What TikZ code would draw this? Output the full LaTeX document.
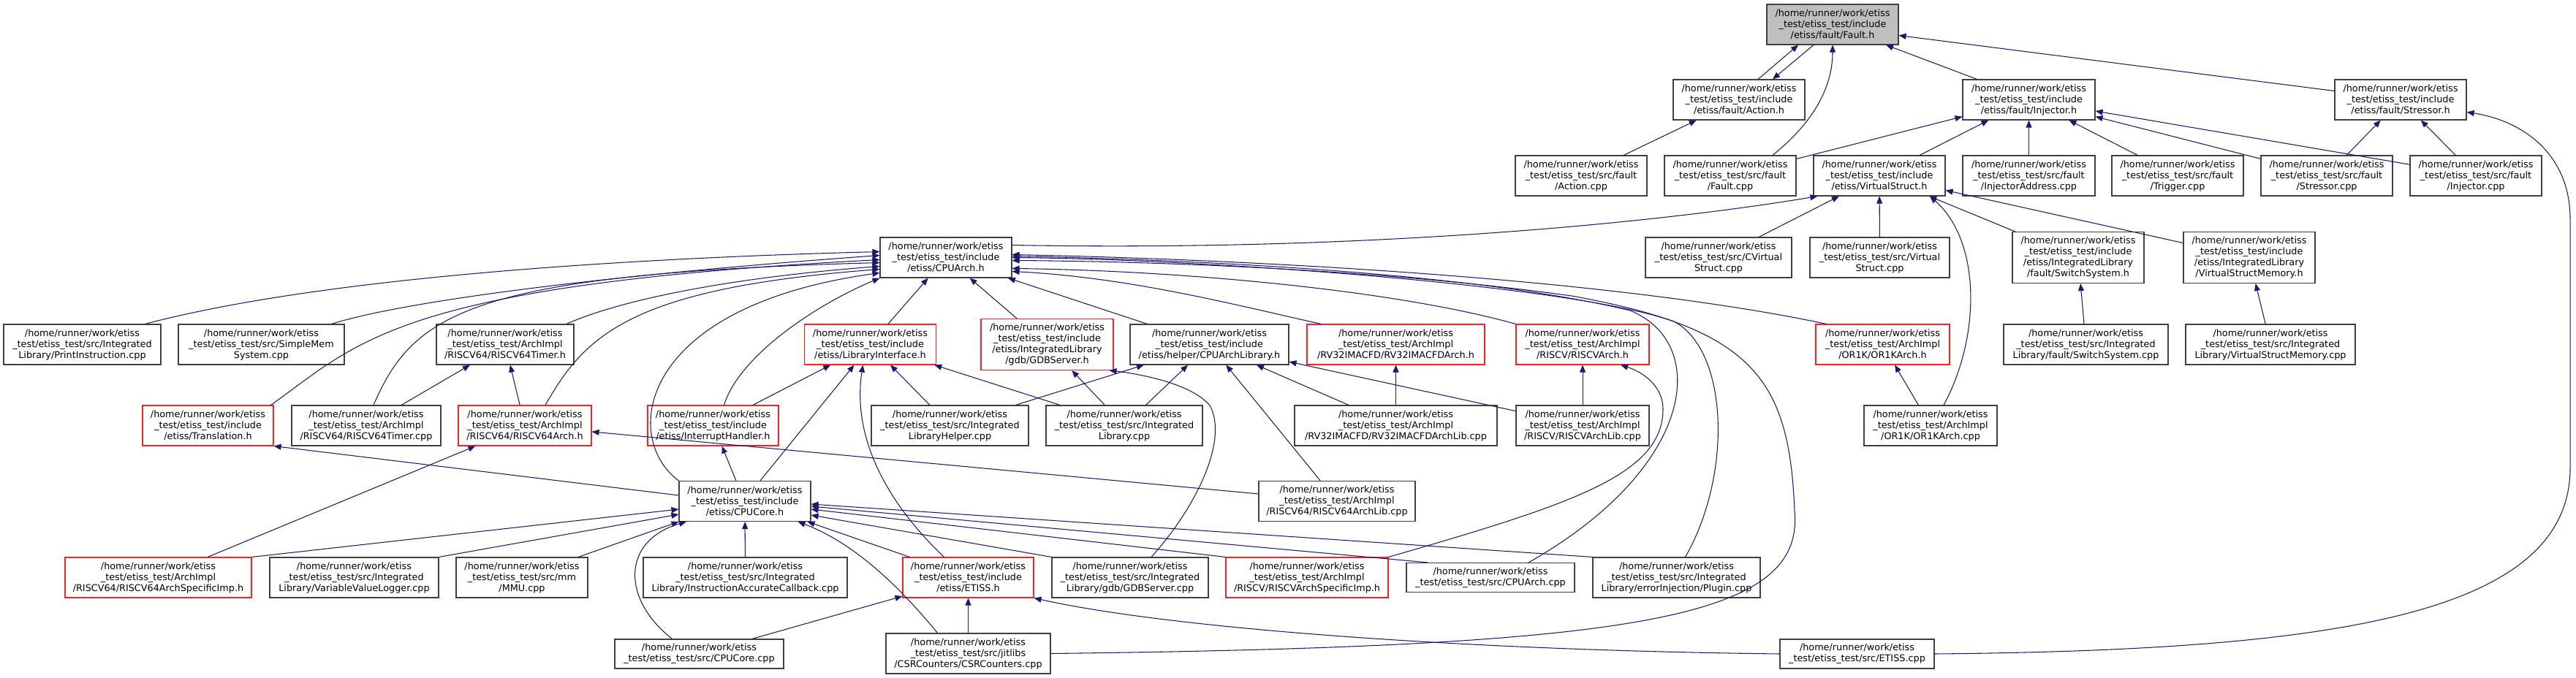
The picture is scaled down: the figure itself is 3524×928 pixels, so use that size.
\documentclass[tikz,border=0pt]{standalone}
\usepackage{fontspec}
\usepackage{tikz}
\usetikzlibrary{arrows.meta}
\newfontfamily\dxfont{DejaVu Sans}
\definecolor{edgeblue}{HTML}{191970}
\definecolor{framegray}{HTML}{404040}
\definecolor{mainfill}{HTML}{BFBFBF}
\definecolor{warnred}{HTML}{FF2020}
\newcommand{\rootdir}{/home/runner/work/etiss}
\newcommand{\testdir}{\_test/etiss\_test}
\tikzset{
    file/.style={rectangle, draw=framegray, fill=white, line width=1.1pt, minimum height=55pt, inner sep=0pt, align=center, font=\dxfont\fontsize{12.8pt}{15pt}\selectfont},
    redfile/.style={file, draw=warnred},
    mainfile/.style={file, fill=mainfill},
    fourline/.style={minimum height=70pt},
    twoline/.style={minimum height=40pt},
    dep/.style={-{Triangle[length=10pt, width=8pt]}, draw=edgeblue, line width=1.05pt}
}

\begin{document}
\begin{tikzpicture}[x=1pt, y=-1pt]
    \path[fill=white, use as bounding box] (0,0) rectangle (3524,928);
    % files, rank by rank
    \node[mainfile, minimum width=180pt] (faulth) at (2507,33.5) {\rootdir\\\testdir/include\\/etiss/fault/Fault.h};

    \node[file, minimum width=180pt] (actionh) at (2379,136.5) {\rootdir\\\testdir/include\\/etiss/fault/Action.h};
    \node[file, minimum width=181pt] (injectorh) at (2775.5,136.5) {\rootdir\\\testdir/include\\/etiss/fault/Injector.h};
    \node[file, minimum width=180pt] (stressorh) at (3284,136.5) {\rootdir\\\testdir/include\\/etiss/fault/Stressor.h};

    \node[file, minimum width=180pt] (actioncpp) at (2163,240.5) {\rootdir\\\testdir/src/fault\\/Action.cpp};
    \node[file, minimum width=180pt] (faultcpp) at (2367,240.5) {\rootdir\\\testdir/src/fault\\/Fault.cpp};
    \node[file, minimum width=180pt] (vstructh) at (2571,240.5) {\rootdir\\\testdir/include\\/etiss/VirtualStruct.h};
    \node[file, minimum width=181pt] (injaddrcpp) at (2775.5,240.5) {\rootdir\\\testdir/src/fault\\/InjectorAddress.cpp};
    \node[file, minimum width=180pt] (triggercpp) at (2979,240.5) {\rootdir\\\testdir/src/fault\\/Trigger.cpp};
    \node[file, minimum width=180pt] (stressorcpp) at (3183,240.5) {\rootdir\\\testdir/src/fault\\/Stressor.cpp};
    \node[file, minimum width=180pt] (injectorcpp) at (3387,240.5) {\rootdir\\\testdir/src/fault\\/Injector.cpp};

    \node[file, minimum width=180pt] (cpuarchh) at (1294,352.5) {\rootdir\\\testdir/include\\/etiss/CPUArch.h};
    \node[file, minimum width=200pt] (cvstructcpp) at (2351,352.5) {\rootdir\\\testdir/src/CVirtual\\Struct.cpp};
    \node[file, minimum width=191pt] (vstructcpp) at (2571.5,352.5) {\rootdir\\\testdir/src/Virtual\\Struct.cpp};
    \node[file, fourline, minimum width=180pt] (switchh) at (2843,352.5) {\rootdir\\\testdir/include\\/etiss/IntegratedLibrary\\/fault/SwitchSystem.h};
    \node[file, fourline, minimum width=180pt] (vsmemh) at (3077,352.5) {\rootdir\\\testdir/include\\/etiss/IntegratedLibrary\\/VirtualStructMemory.h};

    \node[file, minimum width=215pt] (printcpp) at (112.5,471.5) {\rootdir\\\testdir/src/Integrated\\Library/PrintInstruction.cpp};
    \node[file, minimum width=227pt] (simplememcpp) at (357.5,471.5) {\rootdir\\\testdir/src/SimpleMem\\System.cpp};
    \node[file, minimum width=188pt] (rv64timerh) at (691,471.5) {\rootdir\\\testdir/ArchImpl\\/RISCV64/RISCV64Timer.h};
    \node[redfile, minimum width=180pt] (libifh) at (1190.5,471.5) {\rootdir\\\testdir/include\\/etiss/LibraryInterface.h};
    \node[redfile, fourline, minimum width=181pt] (gdbserverh) at (1432.5,471.5) {\rootdir\\\testdir/include\\/etiss/IntegratedLibrary\\/gdb/GDBServer.h};
    \node[file, minimum width=217pt] (cpuarchlibh) at (1654.5,471.5) {\rootdir\\\testdir/include\\/etiss/helper/CPUArchLibrary.h};
    \node[redfile, minimum width=243pt] (rv32archh) at (1909.5,471.5) {\rootdir\\\testdir/ArchImpl\\/RV32IMACFD/RV32IMACFDArch.h};
    \node[redfile, minimum width=182pt] (riscvarchh) at (2165,471.5) {\rootdir\\\testdir/ArchImpl\\/RISCV/RISCVArch.h};
    \node[redfile, minimum width=183pt] (or1karchh) at (2575.5,471.5) {\rootdir\\\testdir/ArchImpl\\/OR1K/OR1KArch.h};
    \node[file, minimum width=225pt] (switchcpp) at (2853.5,471.5) {\rootdir\\\testdir/src/Integrated\\Library/fault/SwitchSystem.cpp};
    \node[file, minimum width=232pt] (vsmemcpp) at (3106,471.5) {\rootdir\\\testdir/src/Integrated\\Library/VirtualStructMemory.cpp};

    \node[redfile, minimum width=179pt] (translationh) at (284.5,582.5) {\rootdir\\\testdir/include\\/etiss/Translation.h};
    \node[file, minimum width=204pt] (rv64timercpp) at (501,582.5) {\rootdir\\\testdir/ArchImpl\\/RISCV64/RISCV64Timer.cpp};
    \node[redfile, minimum width=182pt] (rv64archh) at (718,582.5) {\rootdir\\\testdir/ArchImpl\\/RISCV64/RISCV64Arch.h};
    \node[redfile, minimum width=179pt] (interrupth) at (975.5,582.5) {\rootdir\\\testdir/include\\/etiss/InterruptHandler.h};
    \node[file, minimum width=215pt] (libhelpercpp) at (1299.5,582.5) {\rootdir\\\testdir/src/Integrated\\LibraryHelper.cpp};
    \node[file, minimum width=214pt] (intlibcpp) at (1538,582.5) {\rootdir\\\testdir/src/Integrated\\Library.cpp};
    \node[file, minimum width=277pt] (rv32libcpp) at (1909.5,582.5) {\rootdir\\\testdir/ArchImpl\\/RV32IMACFD/RV32IMACFDArchLib.cpp};
    \node[file, minimum width=182pt] (riscvlibcpp) at (2165,582.5) {\rootdir\\\testdir/ArchImpl\\/RISCV/RISCVArchLib.cpp};
    \node[file, minimum width=182pt] (or1kcpp) at (2641,582.5) {\rootdir\\\testdir/ArchImpl\\/OR1K/OR1KArch.cpp};

    \node[file, minimum width=180pt] (cpucoreh) at (1019,686) {\rootdir\\\testdir/include\\/etiss/CPUCore.h};
    \node[file, minimum width=214pt] (rv64libcpp) at (1829,686) {\rootdir\\\testdir/ArchImpl\\/RISCV64/RISCV64ArchLib.cpp};

    \node[redfile, minimum width=255pt] (rv64specimph) at (216.5,790.5) {\rootdir\\\testdir/ArchImpl\\/RISCV64/RISCV64ArchSpecificImp.h};
    \node[file, minimum width=231pt] (varloggercpp) at (484.5,790.5) {\rootdir\\\testdir/src/Integrated\\Library/VariableValueLogger.cpp};
    \node[file, minimum width=180pt] (mmucpp) at (714,790.5) {\rootdir\\\testdir/src/mm\\/MMU.cpp};
    \node[file, minimum width=279pt] (iacbcpp) at (1019.5,790.5) {\rootdir\\\testdir/src/Integrated\\Library/InstructionAccurateCallback.cpp};
    \node[redfile, minimum width=179pt] (etissh) at (1324.5,790.5) {\rootdir\\\testdir/include\\/etiss/ETISS.h};
    \node[file, minimum width=214pt] (gdbservercpp) at (1546,790.5) {\rootdir\\\testdir/src/Integrated\\Library/gdb/GDBServer.cpp};
    \node[redfile, minimum width=222pt] (riscvspecimph) at (1788,790.5) {\rootdir\\\testdir/ArchImpl\\/RISCV/RISCVArchSpecificImp.h};
    \node[file, twoline, minimum width=230pt] (cpuarchcpp) at (2039,790.5) {\rootdir\\\testdir/src/CPUArch.cpp};
    \node[file, minimum width=229pt] (plugincpp) at (2293.5,790.5) {\rootdir\\\testdir/src/Integrated\\Library/errorInjection/Plugin.cpp};

    \node[file, twoline, minimum width=231pt] (cpucorecpp) at (956.5,895) {\rootdir\\\testdir/src/CPUCore.cpp};
    \node[file, minimum width=225pt] (csrcpp) at (1324.5,894.5) {\rootdir\\\testdir/src/jitlibs\\/CSRCounters/CSRCounters.cpp};
    \node[file, twoline, minimum width=211pt] (etisscpp) at (2540.5,895) {\rootdir\\\testdir/src/ETISS.cpp};

    % fault headers
    \draw[dep] ([xshift=26pt]actionh.north) -- ([xshift=-47pt]faulth.south);
    \draw[dep] ([xshift=-26pt]faulth.south) -- ([xshift=46pt]actionh.north);
    \draw[dep] ([xshift=58pt]faultcpp.north) .. controls (2490,160) and (2507,110) .. (faulth.south);
    \draw[dep] ([xshift=-71pt]injectorh.north) -- ([xshift=73pt]faulth.south);
    \draw[dep] ([yshift=12pt]stressorh.west) -- ([yshift=-15pt]faulth.east);
    \draw[dep] (actioncpp) -- (actionh);
    \draw[dep] (faultcpp) -- (injectorh);
    \draw[dep] (vstructh) -- (injectorh);
    \draw[dep] (injaddrcpp) -- (injectorh);
    \draw[dep] (triggercpp) -- (injectorh);
    \draw[dep] (stressorcpp) -- (injectorh);
    \draw[dep] (injectorcpp) -- (injectorh);
    \draw[dep] (stressorcpp) -- (stressorh);
    \draw[dep] (injectorcpp) -- (stressorh);
    \draw[dep] (etisscpp.east) .. controls (3200,890) and (3516,840) .. (3516,640) -- (3516,300) .. controls (3516,210) and (3450,165) .. ([yshift=-17pt]stressorh.east);

    % VirtualStruct.h
    \draw[dep] ([yshift=17pt]cpuarchh.east) .. controls (1900,345) and (2300,300) .. ([xshift=6pt]vstructh.south west);
    \draw[dep] (cvstructcpp) -- (vstructh);
    \draw[dep] (vstructcpp) -- (vstructh);
    \draw[dep] ([xshift=18pt]or1kcpp.north) .. controls (2710,460) and (2710,330) .. ([xshift=69pt]vstructh.south);
    \draw[dep] (switchh) -- (vstructh);
    \draw[dep] (vsmemh) -- (vstructh);
    \draw[dep] (switchcpp) -- (switchh);
    \draw[dep] (vsmemcpp) -- (vsmemh);
    \draw[dep] (or1kcpp) -- (or1karchh);

    % CPUArch.h
    \draw[dep] ([xshift=86pt]printcpp.north) .. controls (420,385) and (800,355) .. ([yshift=8pt]cpuarchh.west);
    \draw[dep] ([xshift=96pt]simplememcpp.north) .. controls (560,410) and (850,375) .. ([yshift=3pt]cpuarchh.west);
    \draw[dep] ([xshift=86pt]translationh.north) .. controls (490,470) and (540,390) .. ([yshift=-3pt]cpuarchh.west);
    \draw[dep] ([xshift=10pt]rv64timercpp.north) .. controls (565,430) and (640,375) .. ([yshift=-7pt]cpuarchh.west);
    \draw[dep] ([xshift=84pt]rv64timerh.north) .. controls (850,410) and (1000,380) .. ([yshift=-12pt]cpuarchh.west);
    \draw[dep] ([xshift=28pt]rv64archh.north) .. controls (800,460) and (860,395) .. ([yshift=-16pt]cpuarchh.west);
    \draw[dep] (cpucoreh.north west) .. controls (850,600) and (870,420) .. ([yshift=-21pt]cpuarchh.west);
    \draw[dep] ([xshift=15pt]interrupth.north) .. controls (1010,490) and (1110,420) .. (cpuarchh.south west);
    \draw[dep] (libifh) -- (cpuarchh);
    \draw[dep] (gdbserverh) -- (cpuarchh);
    \draw[dep] (cpuarchlibh) -- (cpuarchh);
    \draw[dep] ([xshift=20pt]rv32archh.north west) .. controls (1700,420) and (1550,380) .. ([yshift=-19pt]cpuarchh.east);
    \draw[dep] (riscvarchh.north west) .. controls (1900,395) and (1600,370) .. ([yshift=-15pt]cpuarchh.east);
    \draw[dep] ([xshift=-77pt]or1karchh.north) .. controls (2200,380) and (1700,355) .. ([yshift=4pt]cpuarchh.east);
    \draw[dep] ([xshift=52pt]cpuarchcpp.north) .. controls (2320,640) and (2340,470) .. (2230,425) .. controls (2000,370) and (1600,355) .. ([yshift=2pt]cpuarchh.east);
    \draw[dep] ([xshift=12pt]plugincpp.north) .. controls (2370,650) and (2365,480) .. (2290,440) .. controls (2150,390) and (1650,355) .. (cpuarchh.east);
    \draw[dep] (csrcpp.east) .. controls (2250,885) and (2468,845) .. (2455,700) .. controls (2448,520) and (2400,450) .. (2150,405) .. controls (1900,370) and (1600,358) .. ([yshift=-4pt]cpuarchh.east);

    % RISCV64 headers
    \draw[dep] (rv64timercpp) -- (rv64timerh);
    \draw[dep] (rv64archh) -- (rv64timerh);
    \draw[dep] (rv64specimph) -- (rv64archh);
    \draw[dep] (rv64libcpp) -- (rv64archh);

    % library headers
    \draw[dep] ([yshift=8pt]cpucoreh.west) -- (translationh.south east);
    \draw[dep] ([xshift=-12pt]cpucoreh.north) -- ([xshift=12pt]interrupth.south);
    \draw[dep] ([xshift=21pt]cpucoreh.north) -- ([xshift=-22pt]libifh.south);
    \draw[dep] (interrupth) -- (libifh);
    \draw[dep] ([xshift=-33pt]etissh.north) .. controls (1215,690) and (1165,600) .. ([xshift=-10pt]libifh.south);
    \draw[dep] (libhelpercpp) -- (libifh);
    \draw[dep] (intlibcpp) -- (libifh);
    \draw[dep] (intlibcpp) -- (gdbserverh);
    \draw[dep] ([xshift=29pt]gdbservercpp.north) .. controls (1640,690) and (1680,600) .. (1655,555) .. controls (1630,525) and (1560,512) .. ([xshift=-6pt]gdbserverh.south east);
    \draw[dep] (libhelpercpp) -- (cpuarchlibh);
    \draw[dep] (intlibcpp) -- (cpuarchlibh);
    \draw[dep] (rv64libcpp) -- (cpuarchlibh);
    \draw[dep] (rv32libcpp) -- (cpuarchlibh);
    \draw[dep] (riscvlibcpp) -- (cpuarchlibh);
    \draw[dep] (rv32libcpp) -- (rv32archh);
    \draw[dep] (riscvlibcpp) -- (riscvarchh);
    \draw[dep] (riscvspecimph.north east) .. controls (2150,690) and (2275,650) .. (2275,560) .. controls (2275,530) and (2250,510) .. ([xshift=52pt]riscvarchh.south);

    % CPUCore.h
    \draw[dep] (rv64specimph.north east) -- ([yshift=-11pt]cpucoreh.west);
    \draw[dep] (varloggercpp.north east) -- ([yshift=-18pt]cpucoreh.west);
    \draw[dep] ([xshift=77pt]mmucpp.north) -- (cpucoreh.south west);
    \draw[dep] ([xshift=-37pt]cpucorecpp.north) .. controls (850,820) and (850,740) .. ([xshift=-80pt]cpucoreh.south);
    \draw[dep] (iacbcpp) -- (cpucoreh);
    \draw[dep] ([xshift=-80pt]etissh.north) -- ([xshift=-5pt]cpucoreh.south east);
    \draw[dep] ([xshift=-42pt]csrcpp.north) .. controls (1220,790) and (1160,740) .. ([xshift=-18pt]cpucoreh.south east);
    \draw[dep] (gdbservercpp.north west) -- ([yshift=-19pt]cpucoreh.east);
    \draw[dep] (riscvspecimph.north west) -- ([yshift=-11pt]cpucoreh.east);
    \draw[dep] ([xshift=30pt]cpuarchcpp.north west) -- ([yshift=-7pt]cpucoreh.east);
    \draw[dep] (plugincpp.north west) -- ([yshift=-4pt]cpucoreh.east);

    % ETISS.h
    \draw[dep] (cpucorecpp) -- (etissh);
    \draw[dep] (csrcpp) -- (etissh);
    \draw[dep] (etisscpp.west) .. controls (2000,890) and (1600,860) .. (etissh.south east);
\end{tikzpicture}
\end{document}
